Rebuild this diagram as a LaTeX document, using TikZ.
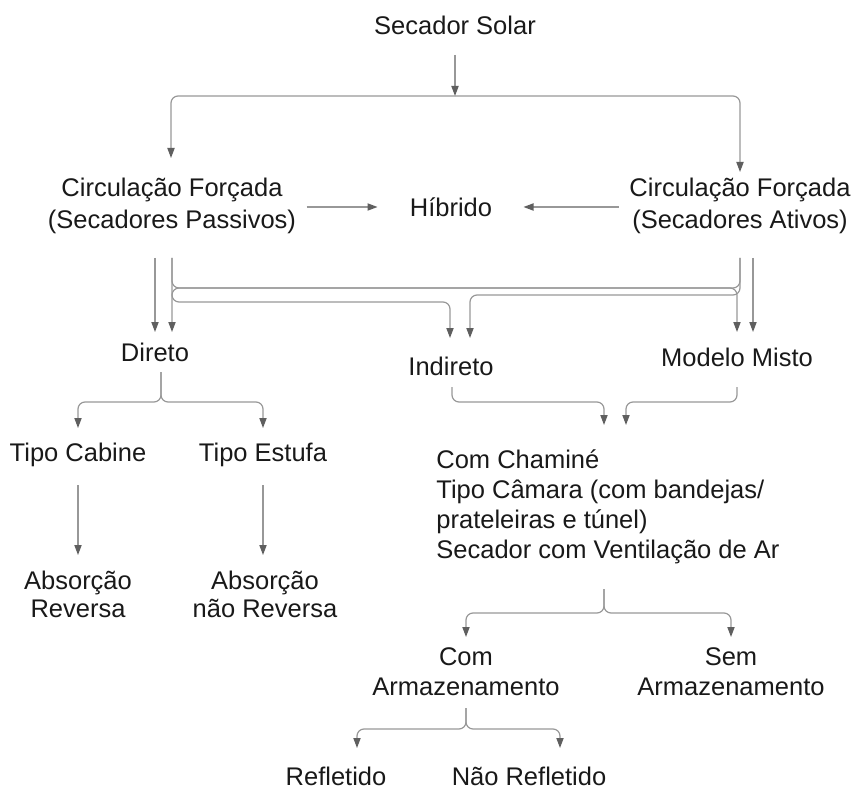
\documentclass[tikz,border=0pt]{standalone}
\usepackage{fontspec}
\setmainfont{Liberation Sans}
\usepackage{tikz}
\usetikzlibrary{arrows.meta, calc}
\definecolor{linegray}{RGB}{152,152,152}
\definecolor{tipgray}{RGB}{95,95,95}
\definecolor{textdark}{RGB}{25,25,25}

\begin{document}
\begin{tikzpicture}[x=0.5pt, y=-0.5pt,
  lbl/.style={text=textdark, font=\fontsize{12.75}{15}\selectfont, inner sep=0pt, align=center},
  conn/.style={draw=linegray, line width=0.6pt, rounded corners=3.5pt,
    -{Triangle[length=5pt, width=3.6pt, color=tipgray]}}]
\useasboundingbox (0,0) rectangle (851,791);

%% top
\node[lbl] (solar) at (455,25) {Secador Solar};
\node[lbl] (pas) at (172,206) {Circulação Forçada\\[1pt](Secadores Passivos)};
\node[lbl] (hib) at (451,207) {Híbrido};
\node[lbl] (ati) at (740,206) {Circulação Forçada\\[1pt](Secadores Ativos)};
\coordinate (split) at (455,96);
\draw[conn] ($(solar)+(0,30)$) -- (split);
\draw[conn] (split) -| ($(pas)+(-1,-48)$);
\draw[conn] (split) -| ($(ati)+(0,-34)$);
\draw[conn] ($(hib.west)+(-103,0)$) -- ($(hib.west)+(-32,0)$);
\draw[conn] ($(hib.east)+(126,0)$) -- ($(hib.east)+(31,0)$);

%% middle row
\node[lbl] (dir) at (155,352) {Direto};
\node[lbl] (ind) at (451,366) {Indireto};
\node[lbl] (mis) at (737,357) {Modelo Misto};
\draw[conn] ($(pas)+(-17,52)$) -- ($(dir)+(0,-20)$);
\draw[conn] ($(ati)+(0,52)$) |- ($(dir)+(17,-64)$) -- ($(dir)+(17,-20)$);
\draw[conn] ($(pas)+(0,52)$) |- ($(ind)+(-1,-64)$) -- ($(ind)+(-1,-28)$);
\draw[conn] ($(ati)+(0,52)$) |- ($(ind)+(19,-71)$) -- ($(ind)+(19,-28)$);
\draw[conn] ($(pas)+(0,52)$) |- ($(mis)+(0,-69)$) -- ($(mis)+(0,-25)$);
\draw[conn] ($(ati)+(13,52)$) -- ($(mis)+(16,-25)$);

%% direto
\node[lbl] (cab) at (78,455) {Tipo Cabine};
\node[lbl] (est) at (263,455) {Tipo Estufa};
\node[lbl] (absr) at (78,594) {Absorção\\[-1pt]Reversa};
\node[lbl] (absn) at (265,594) {Absorção\\[-1pt]não Reversa};
\draw[conn] ($(dir)+(6,20)$) |- ($(cab)+(0,-53)$) -- ($(cab)+(0,-27)$);
\draw[conn] ($(dir)+(6,20)$) |- ($(est)+(0,-53)$) -- ($(est)+(0,-27)$);
\draw[conn] ($(cab)+(0,30)$) -- ($(cab |- absr)+(0,-39)$);
\draw[conn] ($(est)+(0,30)$) -- ($(est |- absn)+(0,-39)$);

%% indireto / misto
\node[lbl, align=left, anchor=west] (tipos) at (436,507)
  {Com Chaminé\\Tipo Câmara (com bandejas/\\prateleiras e túnel)\\Secador com Ventilação de Ar};
\draw[conn] ($(ind)+(1,21)$) |- ($(tipos.west)+(168,-105)$) -- ($(tipos.west)+(168,-82)$);
\draw[conn] ($(mis)+(0,30)$) |- ($(tipos.west)+(190,-105)$) -- ($(tipos.west)+(190,-82)$);

%% armazenamento
\node[lbl] (com) at (466,672) {Com\\Armazenamento};
\node[lbl] (sem) at (731,672) {Sem\\Armazenamento};
\draw[conn] ($(tipos.west)+(168,82)$) |- ($(com)+(0,-59)$) -- ($(com)+(0,-35)$);
\draw[conn] ($(tipos.west)+(168,82)$) |- ($(sem)+(0,-59)$) -- ($(sem)+(0,-35)$);

\node[lbl] (ref) at (336,776) {Refletido};
\node[lbl] (nref) at (529,776) {Não Refletido};
\draw[conn] ($(com)+(0,36)$) |- ($(ref)+(21,-47)$) -- ($(ref)+(21,-28)$);
\draw[conn] ($(com)+(0,36)$) |- ($(nref)+(31,-47)$) -- ($(nref)+(31,-28)$);
\end{tikzpicture}
\end{document}
